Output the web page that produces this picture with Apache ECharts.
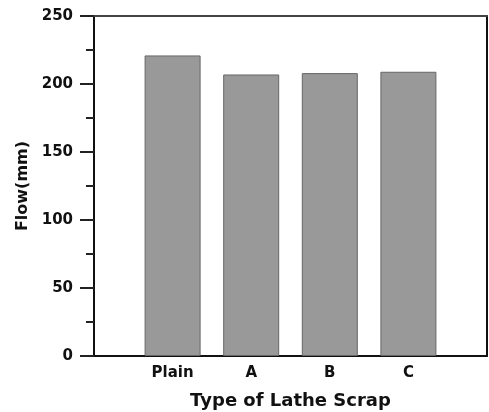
<!DOCTYPE html>
<html>
<head>
<meta charset="utf-8">
<script src="https://cdn.jsdelivr.net/npm/echarts@6/dist/echarts.min.js"></script>
<style>
html,body{margin:0;padding:0;background:#fff;}
#chart{width:489px;height:412px;}
</style>
</head>
<body>
<div id="chart"></div>
<script>
// Data
var categories = ['Plain', 'A', 'B', 'C'];
var flowValues = [221, 207, 208, 209];
var yTicks = [0, 50, 100, 150, 200, 250];

// Padded categories so bars sit at 1..4 on a 0..5 span
var paddedCats = [''].concat(categories).concat(['']);
var paddedVals = [null].concat(flowValues).concat([null]);

var FONT = 'DejaVu Sans';
var chart = echarts.init(document.getElementById('chart'), null, {renderer: 'canvas'});
chart.setOption({
  animation: false,
  backgroundColor: '#ffffff',
  grid: {left: 94, right: 2, top: 16, bottom: 56, containLabel: false, outerBoundsMode: 'none'},
  xAxis: [{
    type: 'category',
    data: paddedCats,
    boundaryGap: false,
    position: 'bottom',
    axisLine: {show: true, onZero: false, lineStyle: {color: '#111', width: 2}},
    axisTick: {show: false},
    axisLabel: {interval: 0, margin: 10, color: '#111', fontFamily: FONT, fontWeight: 'bold', fontSize: 15},
    splitLine: {show: false},
    name: 'Type of Lathe Scrap',
    nameLocation: 'middle',
    nameGap: 36,
    nameTextStyle: {color: '#111', fontFamily: FONT, fontWeight: 'bold', fontSize: 18}
  }, {
    type: 'category',
    data: paddedCats,
    boundaryGap: false,
    position: 'top',
    axisLine: {show: true, onZero: false, lineStyle: {color: '#444', width: 2}},
    axisTick: {show: false},
    axisLabel: {show: false},
    splitLine: {show: false}
  }],
  yAxis: [{
    type: 'value',
    min: yTicks[0],
    max: yTicks[yTicks.length - 1],
    interval: 50,
    position: 'left',
    axisLine: {show: true, onZero: false, lineStyle: {color: '#111', width: 2}},
    axisTick: {show: true, length: 14, lineStyle: {color: '#222', width: 2}},
    minorTick: {show: true, splitNumber: 2, length: 8, lineStyle: {color: '#222', width: 2}},
    axisLabel: {margin: 21, color: '#111', fontFamily: FONT, fontWeight: 'bold', fontSize: 15},
    splitLine: {show: false},
    name: 'Flow(mm)',
    nameLocation: 'middle',
    nameGap: 56,
    nameRotate: 90,
    nameTextStyle: {color: '#111', fontFamily: FONT, fontWeight: 'bold', fontSize: 16}
  }, {
    type: 'value',
    min: yTicks[0],
    max: yTicks[yTicks.length - 1],
    interval: 50,
    position: 'right',
    axisLine: {show: true, onZero: false, lineStyle: {color: '#111', width: 2}},
    axisTick: {show: false},
    axisLabel: {show: false},
    splitLine: {show: false}
  }],
  series: [{
    type: 'bar',
    data: paddedVals,
    barWidth: 56,
    itemStyle: {color: '#999999', borderColor: '#666666', borderWidth: 1}
  }]
});
</script>
</body>
</html>
